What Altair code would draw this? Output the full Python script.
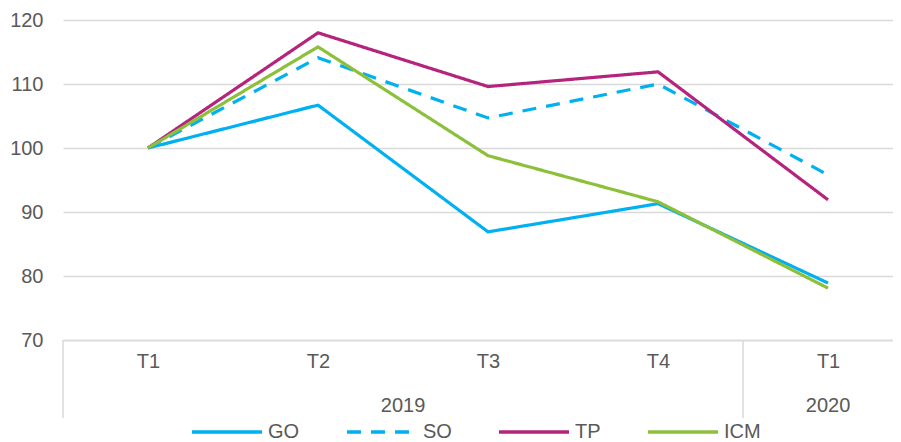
import altair as alt
import pandas as pd

quarters = ["T1", "T2", "T3", "T4", "T1"]
years = ["2019", "2019", "2019", "2019", "2020"]
series_names = ["GO", "SO", "TP", "ICM"]
go = [100, 106.7, 86.9, 91.3, 78.9]
so = [100, 114.1, 104.7, 110.0, 95.8]
tp = [100, 118.0, 109.6, 111.9, 91.9]
icm = [100, 115.8, 98.8, 91.6, 78.1]
colors = ["#00B0F0", "#00B0F0", "#B5247C", "#8DC03A"]
dashes = [[1, 0], [14, 10], [1, 0], [1, 0]]

values = {"GO": go, "SO": so, "TP": tp, "ICM": icm}
rows = []
for s in series_names:
    for i, v in enumerate(values[s]):
        rows.append({"series": s, "idx": i, "q": quarters[i], "year": years[i], "value": v})
df = pd.DataFrame(rows)

# year groups: centre and boundaries
year_rows = []
sep_rows = []
uniq_years = list(dict.fromkeys(years))
for y in uniq_years:
    idxs = [i for i, yy in enumerate(years) if yy == y]
    year_rows.append({"year": y, "center": sum(idxs) / len(idxs)})
    sep_rows.append({"b": min(idxs) - 0.5})
year_df = pd.DataFrame(year_rows)
sep_df = pd.DataFrame(sep_rows)

FONT = "Liberation Sans"
FS = 20
GREY = "#595959"
W, H = 830, 320
x_scale = alt.Scale(domain=[-0.5, 4.382], nice=False, zero=False)
label_expr = "[" + ",".join(f"'{q}'" for q in quarters) + "][datum.value]"

lines = alt.Chart(df).mark_line(strokeWidth=3.2, clip=False).encode(
    x=alt.X("idx:Q", scale=x_scale,
            axis=alt.Axis(values=list(range(len(quarters))), labelExpr=label_expr,
                          title=None, grid=False, ticks=False, domain=True,
                          domainColor="#D9D9D9", domainWidth=1.5,
                          labelPadding=11, labelFontSize=FS, labelColor=GREY,
                          labelFont=FONT)),
    y=alt.Y("value:Q", scale=alt.Scale(domain=[70, 120], nice=False, zero=False),
            axis=alt.Axis(values=[70, 80, 90, 100, 110, 120], title=None,
                          grid=True, gridColor="#D9D9D9", gridWidth=1.5,
                          ticks=False, domain=False, labelPadding=20,
                          labelFontSize=FS, labelColor=GREY,
                          labelFont=FONT)),
    color=alt.Color("series:N", sort=series_names,
                    scale=alt.Scale(domain=series_names, range=colors),
                    legend=alt.Legend(title=None, orient="none", direction="horizontal",
                                      legendX=127, legendY=375,
                                      symbolType="stroke", symbolSize=4900,
                                      symbolStrokeWidth=3.5, labelFontSize=FS,
                                      labelColor=GREY, labelFont=FONT,
                                      columnPadding=40, labelOffset=4)),
    strokeDash=alt.StrokeDash("series:N", sort=series_names,
                              scale=alt.Scale(domain=series_names, range=dashes),
                              legend=alt.Legend(title=None)),
    order="idx:Q",
)

year_text = alt.Chart(year_df).mark_text(fontSize=FS, color=GREY,
                                         font=FONT, baseline="middle").encode(
    x=alt.X("center:Q", scale=x_scale),
    y=alt.value(H + 66),
    text="year:N",
)

seps = alt.Chart(sep_df).mark_rule(color="#D9D9D9", strokeWidth=1.5).encode(
    x=alt.X("b:Q", scale=x_scale),
    y=alt.value(H),
    y2=alt.value(H + 78),
)

chart = alt.layer(lines, seps, year_text).properties(
    width=W, height=H,
    autosize=alt.AutoSizeParams(type="none"),
    padding={"left": 55, "top": 12, "right": 0, "bottom": 110},
).configure_view(stroke=None)

chart.save("out.html", embed_options={"renderer": "svg", "actions": False})
